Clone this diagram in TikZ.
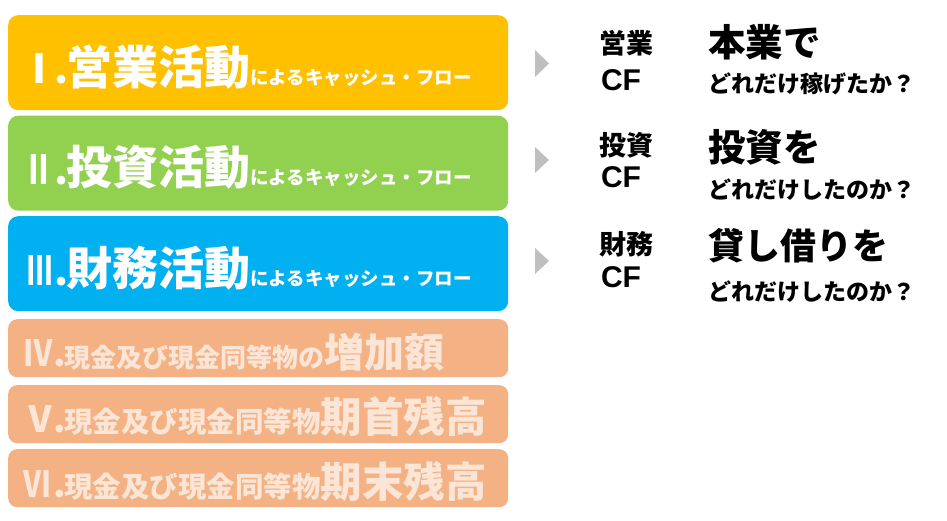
\documentclass[tikz,border=0pt]{standalone}
\usepackage{graphicx}
\usepackage{fontspec}
\newfontfamily\jp{Noto Sans CJK JP}
\newfontfamily\cff{Liberation Sans}
\definecolor{cforange}{HTML}{FFC000}
\definecolor{cfgreen}{HTML}{92D050}
\definecolor{cfblue}{HTML}{00B0F0}
\definecolor{cfsalmon}{HTML}{F4B183}
\definecolor{cfpeach}{HTML}{FBE5D6}
\definecolor{cfgray}{HTML}{BFBFBF}
\newcommand{\fs}[1]{\fontsize{#1}{#1}\selectfont}
\newcommand{\hsq}[2]{\scalebox{#1}[1]{#2}}
\tikzset{
  bigbar/.style={anchor=north west, inner sep=0pt, minimum width=500pt, minimum height=95pt, rounded corners=10pt},
  smallbar/.style={anchor=north west, inner sep=0pt, minimum width=500pt, minimum height=58pt, rounded corners=9pt, fill=cfsalmon},
  bartext/.style={anchor=base west, inner sep=0pt, text=white, font=\jp\bfseries},
  barnum/.style={anchor=base, inner sep=0pt, text=white, font=\jp\bfseries\fs{40}},
  peachtext/.style={anchor=base west, inner sep=0pt, text=cfpeach, font=\jp\bfseries},
  peachnum/.style={anchor=base, inner sep=0pt, text=cfpeach, font=\jp\bfseries\fs{36}},
  lab/.style={anchor=base, inner sep=0pt, font=\jp\bfseries\fs{27}},
  cflab/.style={anchor=base, inner sep=0pt, font=\cff\bfseries\fs{30}},
  headline/.style={anchor=base west, inner sep=0pt, font=\jp\bfseries\fs{37.5}},
  subline/.style={anchor=base west, inner sep=0pt, font=\jp\bfseries\fs{23}},
  arrowtri/.style={fill=cfgray},
}
\begin{document}
\begin{tikzpicture}[x=1pt,y=-1pt]
\useasboundingbox (0,0) rectangle (947,520);
% bars
\node[bigbar, fill=cforange] (b1) at (8,15) {};
\node[bigbar, fill=cfgreen]  (b2) at (8,115.5) {};
\node[bigbar, fill=cfblue]   (b3) at (8,216) {};
\node[smallbar] (b4) at (8,319) {};
\node[smallbar] (b5) at (8,385) {};
\node[smallbar] (b6) at (8,449) {};
% numerals
\node[barnum] (n1) at (39,83) {Ⅰ};
\node[barnum] (p1) at (61.5,83) {.};
\node[barnum] (n2) at (38.5,184) {\hsq{0.72}{Ⅱ}};
\node[barnum] (p2) at (62,184) {.};
\node[barnum] (n3) at (40,285) {\hsq{0.63}{Ⅲ}};
\node[barnum] (p3) at (62,285) {.};
\node[peachnum] (n4) at (38.5,366) {\hsq{0.82}{Ⅳ}};
\node[peachnum] (p4) at (60,366) {.};
\node[peachnum] (n5) at (40,432) {Ⅴ};
\node[peachnum] (p5) at (60,432) {.};
\node[peachnum] (n6) at (37.5,497) {\hsq{0.78}{Ⅵ}};
\node[peachnum] (p6) at (60,497) {.};
% bar texts
\node[bartext] (t1) at (66,84) {{\fs{46}営業活動}{\fs{18.5}によるキャッシュ・フロー}};
\node[bartext] (t2) at (66,184) {{\fs{46}投資活動}{\fs{18.5}によるキャッシュ・フロー}};
\node[bartext] (t3) at (66,285) {{\fs{46}財務活動}{\fs{18.5}によるキャッシュ・フロー}};
\node[peachtext] (t4) at (64,367) {{\fs{26}現金及び現金同等物の}{\fs{40}増加額}};
\node[peachtext] (t5) at (64,432) {{\fs{28.5}現金及び現金同等物}{\fs{41.5}期首残高}};
\node[peachtext] (t6) at (64,497) {{\fs{28.5}現金及び現金同等物}{\fs{41.5}期末残高}};
% triangles
\coordinate (a1) at (535,50);
\fill[arrowtri] (a1) -- ++(14,13.5) -- ++(-14,13.5) -- cycle;
\coordinate (a2) at (535,147);
\fill[arrowtri] (a2) -- ++(14,13) -- ++(-14,13) -- cycle;
\coordinate (a3) at (535,248);
\fill[arrowtri] (a3) -- ++(14,13) -- ++(-14,13) -- cycle;
% right labels
\node[lab]  (l1) at (626,53) {営業};
\node[cflab] (c1) at (621,90) {CF};
\node[headline] (h1) at (708,56) {本業で};
\node[subline] (s1) at (708,92) {どれだけ稼げたか？};
\node[lab]  (l2) at (626,155) {投資};
\node[cflab] (c2) at (621,187) {CF};
\node[headline] (h2) at (708,161) {投資を};
\node[subline] (s2) at (708,198) {どれだけしたのか？};
\node[lab]  (l3) at (626,254) {財務};
\node[cflab] (c3) at (621,287) {CF};
\node[headline, font=\jp\bfseries\fs{36}] (h3) at (708,259) {貸し借りを};
\node[subline] (s3) at (708,300) {どれだけしたのか？};
\end{tikzpicture}
\end{document}
